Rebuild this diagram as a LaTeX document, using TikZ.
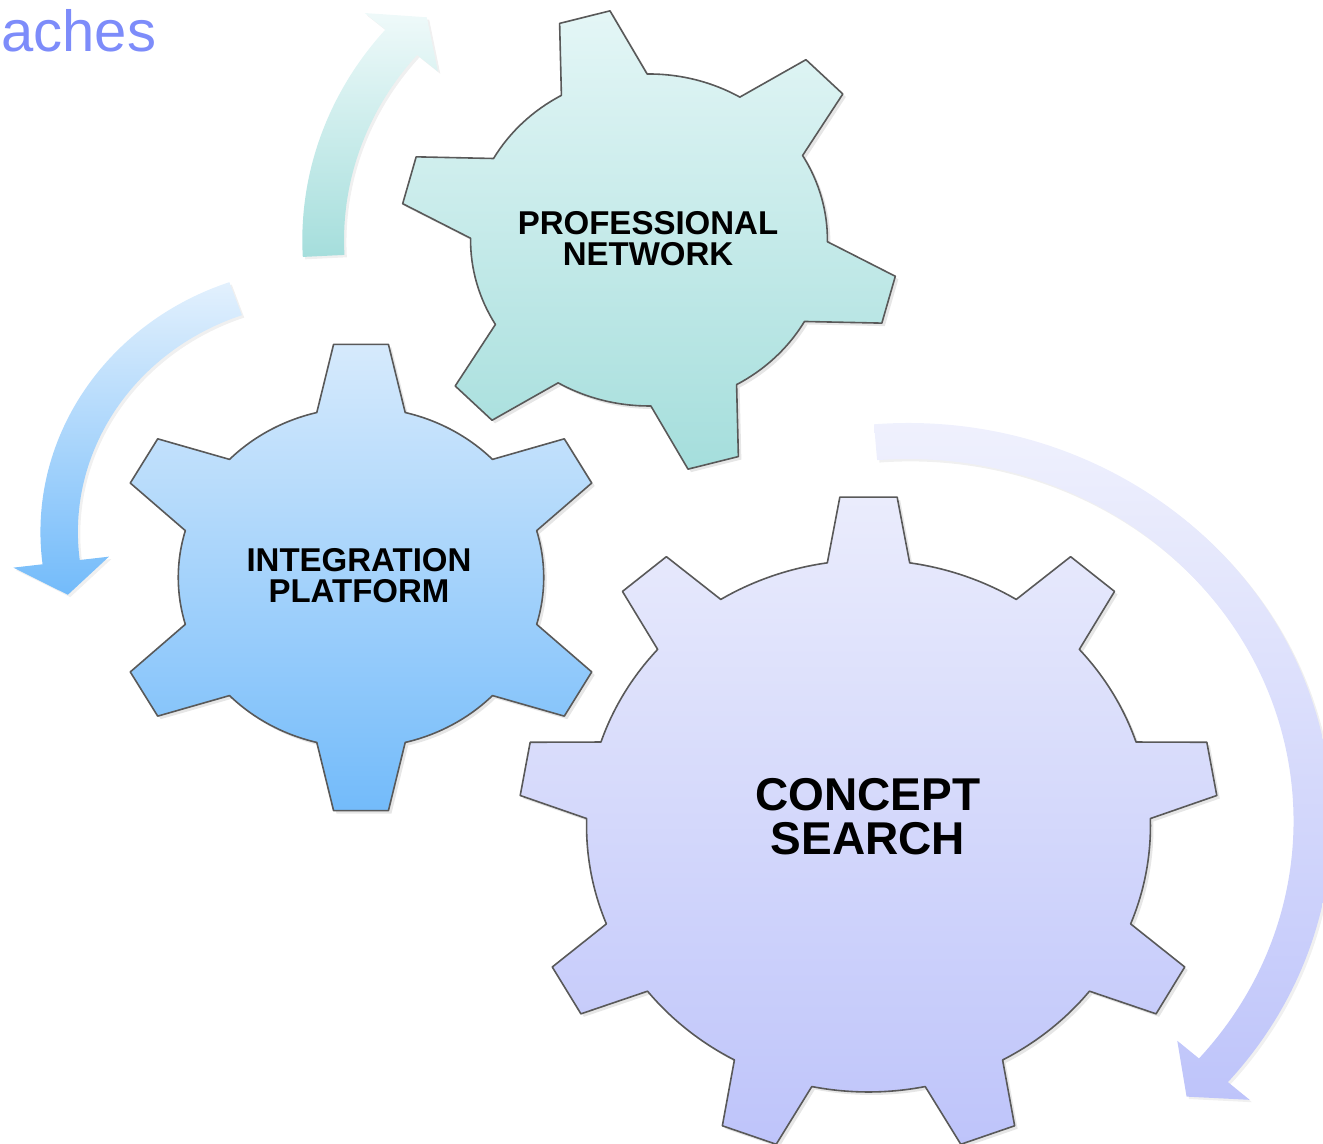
\documentclass[tikz,border=0pt]{standalone}
\usepackage{fontspec}
\setmainfont{Liberation Sans}
\usetikzlibrary{shadows}

\definecolor{tealtop}{RGB}{228,246,246}
\definecolor{tealbot}{RGB}{165,222,220}
\definecolor{bluetop}{RGB}{214,234,252}
\definecolor{bluebot}{RGB}{115,187,250}
\definecolor{lavtop}{RGB}{234,236,252}
\definecolor{lavbot}{RGB}{190,196,250}
\definecolor{titleblue}{RGB}{125,140,250}

% teeth, tip radius, body radius, tip half angle, base half angle, turn
\newcommand{\gear}[6]{({#6-#5}:#3)
  \foreach \k in {1,...,#1}{
    -- ({#6+360*(\k-1)/#1-#4}:#2) -- ({#6+360*(\k-1)/#1+#4}:#2)
    -- ({#6+360*(\k-1)/#1+#5}:#3)
    arc[start angle={#6+360*(\k-1)/#1+#5}, end angle={#6+360*\k/#1-#5}, radius=#3]
  } -- cycle}
% start, end, radius, half width, tip angle
\newcommand{\bentarrow}[5]{({#1}:{#3+#4})
  arc[start angle=#1, end angle=#2, radius={#3+#4}]
  -- ({#2}:{#3+45}) -- ({#5}:#3) -- ({#2}:{#3-45}) -- ({#2}:{#3-#4})
  arc[start angle=#2, end angle=#1, radius={#3-#4}] -- cycle}

\begin{document}
\begin{tikzpicture}[x=0.5pt,y=0.5pt,
  cog/.style={draw=black!65, line width=0.8pt, line join=round,
    drop shadow={shadow xshift=1.5pt, shadow yshift=-1.5pt, opacity=0.2}},
  turn/.style={drop shadow={shadow xshift=1.2pt, shadow yshift=-1.2pt, opacity=0.12}},
  word/.style={font=\bfseries\fontsize{16.5}{15.5}\selectfont, align=center, text=black},
  bigword/.style={word, font=\bfseries\fontsize{23}{22}\selectfont}]
\useasboundingbox (0,0) rectangle (1323,1144);

\node[anchor=base west, inner sep=0pt, text=titleblue,
  font=\fontsize{29}{29}\selectfont] (title) at (1,1092) {aches};

% arrows
\begin{scope}[shift={(649,904)}, xscale=1.07]
  \path[turn, top color=tealtop!60!white, bottom color=tealbot] \bentarrow{183}{139.5}{304.5}{19.5}{133};
\end{scope}
\begin{scope}[shift={(324,612)}, xscale=1.07]
  \path[turn, top color=bluetop!70!white, bottom color=bluebot] \bentarrow{109.5}{187}{247.5}{17.5}{194.7};
\end{scope}
\begin{scope}[shift={(908,323)}, xscale=1.065]
  \path[turn, top color=lavtop!70!white, bottom color=lavbot] \bentarrow{94.6}{-41}{380}{18}{-46.5};
\end{scope}

% gears
\begin{scope}[shift={(649,904)}, xscale=1.075]
  \path[cog, top color=tealtop, bottom color=tealbot] \gear{6}{232}{166}{6}{14.4}{105};
\end{scope}
\begin{scope}[shift={(361,566.5)}, xscale=1.075]
  \path[cog, top color=bluetop, bottom color=bluebot] \gear{6}{234.5}{170}{6.25}{14}{90};
\end{scope}
\begin{scope}[shift={(868.5,318)}, xscale=1.06]
  \path[cog, top color=lavtop, bottom color=lavbot] \gear{9}{330}{266}{4.7}{8.4}{90};
\end{scope}

\node[word] (prof) at (648,905) {PROFESSIONAL\\NETWORK};
\node[word] (integ) at (359,568) {INTEGRATION\\PLATFORM};
\node[bigword] (concept) at (868,327) {CONCEPT\\SEARCH};
\end{tikzpicture}
\end{document}
